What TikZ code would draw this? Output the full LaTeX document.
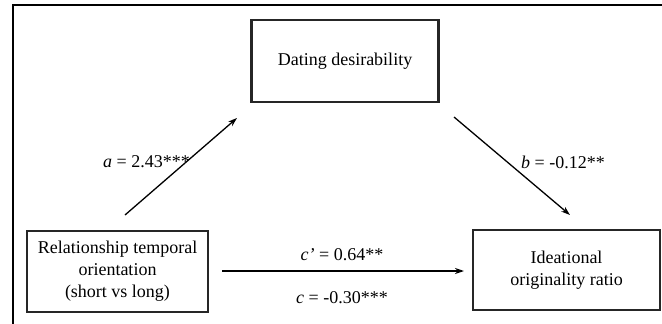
\documentclass[tikz,border=0pt]{standalone}
\usepackage{fontspec}
\setmainfont{Liberation Serif}
\usetikzlibrary{arrows.meta}
\begin{document}
\begin{tikzpicture}[x=1pt,y=-1pt,
  box/.style={draw=black!85,line width=2.6pt,inner sep=0pt,align=center,
    font=\fontsize{18}{22}\selectfont},
  conn/.style={line width=1.3pt,-{Stealth[length=9pt,width=6pt]}},
  lbl/.style={font=\fontsize{18}{22}\selectfont,inner sep=0pt}]
\useasboundingbox (0,0) rectangle (662,324);
\fill[white] (0,0) rectangle (662,324);
% frame (partially visible)
\draw[line width=1.6pt] (13,324) -- (13,5) -- (662,5);
% boxes
\node[box,minimum width=187pt,minimum height=82pt] (m) at (345,61) {Dating desirability};
\node[box,minimum width=181pt,minimum height=81pt] (x) at (117.5,271.5) {Relationship temporal\\orientation\\(short vs long)};
\node[box,minimum width=187pt,minimum height=80pt] (y) at (566.5,270) {Ideational\\originality ratio};
% connector endpoints
\coordinate (a0) at (125,215);
\coordinate (a1) at (237,118);
\coordinate (b0) at (454,117);
\coordinate (b1) at (570,215);
\coordinate (c0) at (222,271);
\coordinate (c1) at (464,271);
\draw[conn] (a0) -- (a1);
\draw[conn] (b0) -- (b1);
\draw[conn] (c0) -- (c1);
% labels
\node[lbl,anchor=west] (la) at (103,162) {\textit{a} = 2.43***};
\node[lbl,anchor=west] (lb) at (521,162) {\textit{b} = -0.12**};
\node[lbl] (lc1) at (342,255) {\textit{c’} = 0.64**};
\node[lbl] (lc) at (342,298) {\textit{c} = -0.30***};
\end{tikzpicture}
\end{document}
